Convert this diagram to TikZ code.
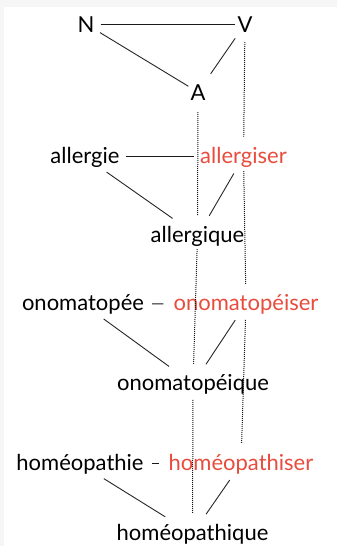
\documentclass[tikz,border=0pt]{standalone}
\usepackage{fontspec}
\setmainfont{Lato}
\usepackage{tikz}
\definecolor{verbred}{RGB}{232,76,61}
\definecolor{framegray}{RGB}{246,246,246}

\begin{document}
\begin{tikzpicture}[x=1pt,y=-1pt,
	word/.style={font=\fontsize{22}{26}\selectfont, inner sep=2pt, anchor=base},
	verb/.style={word, text=verbred},
	link/.style={draw=black!85, line width=0.9pt, shorten <=5pt, shorten >=9pt},
	bar/.style={draw=black!90, line width=0.9pt, shorten <=4pt, shorten >=4pt},
	trace/.style={draw=black!90, line width=1pt, dash pattern=on 1pt off 1pt, shorten <=4pt, shorten >=8pt}]
		%%%%% START %%%%%
		\useasboundingbox (0,0) rectangle (337,546);
		\fill[framegray] (0,0) rectangle (337,546);
		\fill[white] (4,7) rectangle (337,546);
		
		% categories
		\node[word] (N) at (86,32) {N};
		\node[word] (V) at (245,32) {V};
		\node[word] (A) at (198,100) {A};
		
		% words
		\node[word] (allergie) at (85,163) {allergie};
		\node[verb] (allergiser) at (243.5,163) {allergiser};
		\node[word] (allergique) at (197.5,242) {allergique};
		
		\node[word] (onomatopee) at (83,310) {onomatopée};
		\node[verb] (onomatopeiser) at (246,310) {onomatopéiser};
		\node[word] (onomatopeique) at (193,390) {onomatopéique};
		
		\node[word] (homeopathie) at (80,470) {homéopathie};
		\node[verb] (homeopathiser) at (241,470) {homéopathiser};
		\node[word] (homeopathique) at (192.5,540) {homéopathique};
		
		% triangles
		\draw[bar, shorten >=0pt] (N) -- (V);
		\draw[link, shorten <=4pt, shorten >=0pt] (N) -- (A);
		\draw[link, shorten >=10pt] (V) -- (A);
		
		\draw[bar] (allergie) -- (allergiser);
		\draw[link] (allergie) -- (allergique);
		\draw[link] (allergiser) -- (allergique);
		
		\draw[bar, shorten <=6pt, shorten >=8pt] (onomatopee) -- (onomatopeiser);
		\draw[link] (onomatopee) -- (onomatopeique);
		\draw[link] (onomatopeiser) -- (onomatopeique);
		
		\draw[bar, shorten <=6pt, shorten >=7pt] (homeopathie) -- (homeopathiser);
		\draw[link] (homeopathie) -- (homeopathique);
		\draw[link] (homeopathiser) -- (homeopathique);
		
		% dotted columns
		\draw[trace, shorten <=10pt] (A) -- (allergique);
		\draw[trace, shorten <=1pt] (allergique) -- (onomatopeique);
		\draw[trace] (onomatopeique) -- (homeopathique);
		
		\draw[trace, shorten <=8pt] (V) -- (allergiser);
		\draw[trace, shorten <=2pt] (allergiser) -- (onomatopeiser);
		\draw[trace] (onomatopeiser) -- (homeopathiser);
		%%%%% END %%%%%
	\end{tikzpicture}
\end{document}
